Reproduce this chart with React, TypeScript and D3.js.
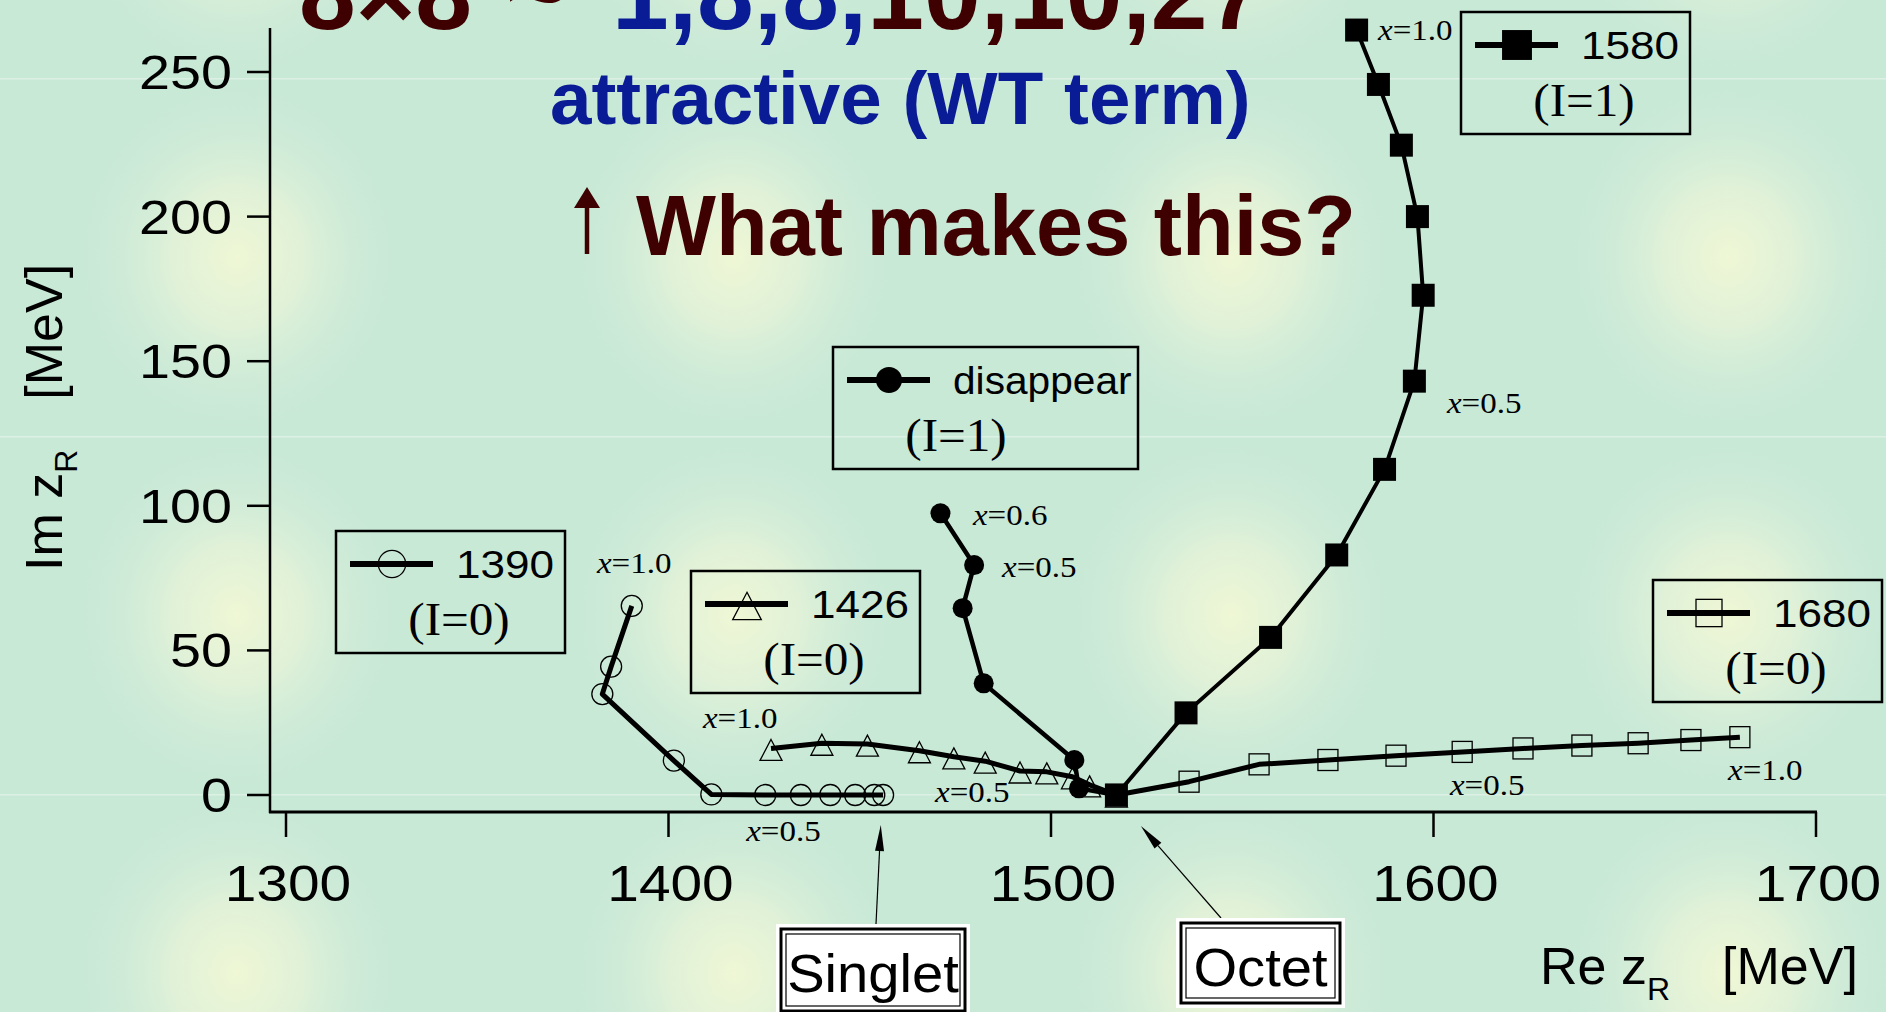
import * as d3 from "d3";

// ---- data ----
const X_TICKS = [1300, 1400, 1500, 1600, 1700];
const Y_TICKS = [0, 50, 100, 150, 200, 250];

// 1390 (I=0), open circles, x=1.0 -> x=0
const RE_1390 = [1390.4, 1385.0, 1382.7, 1401.4, 1411.2, 1425.3, 1434.6, 1442.3, 1448.8, 1453.8, 1456.1];
const IM_1390 = [65.4, 44.4, 34.9, 11.9, 0.2, 0, 0, 0, 0, 0, 0];

// 1426 (I=0), open triangles
const RE_1426 = [1426.8, 1440.1, 1452.0, 1465.6, 1474.6, 1482.8, 1491.9, 1498.9, 1505.6, 1510.1, 1517.1];
const IM_1426 = [16.1, 17.9, 17.6, 15.3, 13.2, 11.7, 8.3, 8.0, 6.3, 3.5, 0];

// 1680 (I=0), open squares
const RE_1680 = [1517.1, 1536.1, 1554.4, 1572.4, 1590.2, 1607.5, 1623.4, 1638.8, 1653.5, 1667.3, 1680.1];
const IM_1680 = [0, 4.6, 10.6, 12.1, 13.6, 14.9, 16.1, 17.1, 17.9, 19.0, 20.0];

// disappear (I=1), filled circles
const RE_DIS = [1471.1, 1479.9, 1476.9, 1482.4, 1506.1, 1507.3, 1517.1];
const IM_DIS = [97.4, 79.5, 64.6, 38.6, 12.1, 2.3, 0];

// 1580 (I=1), filled squares
const RE_1580 = [1517.1, 1535.3, 1557.4, 1574.7, 1587.2, 1595.0, 1597.3, 1595.8, 1591.6, 1585.6, 1579.9];
const IM_1580 = [0, 28.4, 54.5, 83.0, 112.6, 143.1, 172.8, 200.0, 224.7, 245.7, 264.5];

// "x=..." notes, placed in data coordinates
const NOTES = [
  { v: "1.0", re: 1585.5, im: 261 },
  { v: "0.5", re: 1603.5, im: 132 },
  { v: "0.6", re: 1479.6, im: 93.4 },
  { v: "0.5", re: 1487.2, im: 75.4 },
  { v: "1.0", re: 1381.3, im: 76.8 },
  { v: "0.5", re: 1420.3, im: -16 },
  { v: "1.0", re: 1409, im: 23.2 },
  { v: "0.5", re: 1469.7, im: -2.4 },
  { v: "0.5", re: 1604.3, im: 0 },
  { v: "1.0", re: 1677, im: 5.2 },
];

const SANS = "'Liberation Sans', Arial, Helvetica, sans-serif";
const SERIF = "'Liberation Serif', 'Times New Roman', serif";
const RED = "#3e0000";
const BLUE = "#0a1b96";

const W = 1886;
const H = 1012;

const x = d3.scaleLinear().domain([1300, 1700]).range([286, 1816]);
const y = d3.scaleLinear().domain([0, 250]).range([795, 72]);

const AX_Y = y(0) + 17; // x-axis line
const AX_X = x(1300) - 16; // y-axis line

type Kind = "circleOpen" | "circleFilled" | "triOpen" | "squareOpen" | "squareFilled";

function Marker({ kind, cx, cy, s = 1 }: { kind: Kind; cx: number; cy: number; s?: number }) {
  if (kind === "circleOpen")
    return <circle cx={cx} cy={cy} r={10.5 * s} fill="none" stroke="#000" strokeWidth={1.3} />;
  if (kind === "circleFilled") return <circle cx={cx} cy={cy} r={10 * s} fill="#000" />;
  if (kind === "squareOpen")
    return (
      <rect x={cx - 10 * s} y={cy - 10.5 * s} width={20 * s} height={21 * s} fill="none" stroke="#000" strokeWidth={1.3} />
    );
  if (kind === "squareFilled")
    return <rect x={cx - 11.5 * s} y={cy - 11.5 * s} width={23 * s} height={23 * s} fill="#000" />;
  const p = `M${cx},${cy - 9 * s}L${cx + 11 * s},${cy + 12 * s}L${cx - 11 * s},${cy + 12 * s}Z`;
  return <path d={p} fill="none" stroke="#000" strokeWidth={1.3} />;
}

const line = d3
  .line<[number, number]>()
  .x((d) => x(d[0]))
  .y((d) => y(d[1]));

function Series({ re, im, kind, width }: { re: number[]; im: number[]; kind: Kind; width: number }) {
  const pts = re.map((r, i) => [r, im[i]] as [number, number]);
  return (
    <g>
      <path d={line(pts) ?? ""} fill="none" stroke="#000" strokeWidth={width} strokeLinejoin="round" />
      {pts.map((p, i) => (
        <Marker key={i} kind={kind} cx={x(p[0])} cy={y(p[1])} />
      ))}
    </g>
  );
}

// text stretched horizontally (the plot was scaled wider than tall)
function T({
  x: tx,
  y: ty,
  sx = 1,
  size,
  family = SANS,
  anchor = "start",
  weight = "normal",
  fill = "#000",
  children,
}: any) {
  return (
    <text
      transform={`translate(${tx},${ty}) scale(${sx},1)`}
      fontSize={size}
      fontFamily={family}
      textAnchor={anchor}
      fontWeight={weight}
      fill={fill}
    >
      {children}
    </text>
  );
}

function Legend({ left, top, w = 229, kind, name, iso, nameSx = 1.16 }: any) {
  return (
    <g>
      <rect x={left} y={top} width={w} height={122} fill="none" stroke="#000" strokeWidth={2.5} />
      <line x1={left + 14} x2={left + 97} y1={top + 33} y2={top + 33} stroke="#000" strokeWidth={6} />
      <Marker kind={kind} cx={left + 56} cy={top + 33} s={1.3} />
      <T x={left + 120} y={top + 47} size={38} sx={nameSx}>
        {name}
      </T>
      <T x={left + 123} y={top + 104} size={46} sx={1.07} family={SERIF} anchor="middle">
        {iso}
      </T>
    </g>
  );
}

function Arrow({ x1, y1, x2, y2 }: { x1: number; y1: number; x2: number; y2: number }) {
  const a = Math.atan2(y2 - y1, x2 - x1);
  const L = 26;
  const hw = 4.5;
  const bx = x2 - L * Math.cos(a);
  const by = y2 - L * Math.sin(a);
  const nx = -Math.sin(a) * hw;
  const ny = Math.cos(a) * hw;
  return (
    <g>
      <line x1={x1} y1={y1} x2={bx} y2={by} stroke="#000" strokeWidth={1.2} />
      <path d={`M${x2},${y2}L${bx + nx},${by + ny}L${bx - nx},${by - ny}Z`} fill="#000" />
    </g>
  );
}

function BoxLabel({ left, top, w, h, text }: any) {
  return (
    <g>
      <rect x={left} y={top} width={w} height={h} fill="#fff" />
      <rect x={left + 5} y={top + 5} width={w - 10} height={h - 10} fill="none" stroke="#000" strokeWidth={3} />
      <rect x={left + 10} y={top + 10} width={w - 20} height={h - 20} fill="none" stroke="#000" strokeWidth={1.2} />
      <T x={left + w / 2} y={top + 68} size={54} anchor="middle" sx={1.04}>
        {text}
      </T>
    </g>
  );
}

export default function App() {
  return (
    <svg
      width={W}
      height={H}
      viewBox={`0 0 ${W} ${H}`}
      style={{ position: "absolute", left: 0, top: 0, display: "block" }}
    >
      <defs>
        <radialGradient id="spot">
          <stop offset="0" stopColor="#eff7d5" />
          <stop offset="0.4" stopColor="#e0f1d8" />
          <stop offset="1" stopColor="#c9e9d7" stopOpacity="0" />
        </radialGradient>
        <pattern id="bg" patternUnits="userSpaceOnUse" x={-11} y={78} width={497} height={358}>
          <rect width={497} height={358} fill="#c9e9d7" />
          <ellipse cx={248} cy={179} rx={165} ry={178} fill="url(#spot)" />
          <line x1={0} x2={497} y1={0.75} y2={0.75} stroke="#dcf0e4" strokeWidth={1.5} />
        </pattern>
      </defs>
      <rect width={W} height={H} fill="url(#bg)" />

      {/* headline text (top line is cut by the page edge, as in the slide) */}
      <text y={29} fontFamily={SANS} fontWeight="bold" fontSize={102}>
        <tspan x={299} fill={RED}>8×8</tspan>
        <tspan x={506} fill={RED}>~</tspan>
        <tspan x={612} fill={BLUE}>1,8,8,</tspan>
        <tspan fill={RED}>10,10,27</tspan>
      </text>
      <T x={550} y={124} size={75} weight="bold" fill={BLUE} sx={0.995}>
        attractive (WT term)
      </T>
      <line x1={587} x2={587} y1={254} y2={203} stroke={RED} strokeWidth={4.5} />
      <path d="M574,208L600,208L587,187Z" fill={RED} />
      <T x={636} y={255} size={86} weight="bold" fill={RED} sx={0.985}>
        What makes this?
      </T>

      {/* axes */}
      <line x1={AX_X} x2={AX_X} y1={28} y2={AX_Y + 1} stroke="#000" strokeWidth={2.5} />
      <line x1={AX_X - 1} x2={x(1700) + 1} y1={AX_Y} y2={AX_Y} stroke="#000" strokeWidth={3} />
      {Y_TICKS.map((t) => (
        <g key={t}>
          <line x1={AX_X - 23} x2={AX_X} y1={y(t)} y2={y(t)} stroke="#000" strokeWidth={2.5} />
          <T x={232} y={y(t) + 17} size={48} sx={1.16} anchor="end">
            {t}
          </T>
        </g>
      ))}
      {X_TICKS.map((t) => (
        <g key={t}>
          <line x1={x(t)} x2={x(t)} y1={AX_Y} y2={AX_Y + 25} stroke="#000" strokeWidth={2.5} />
          <T x={x(t) + 2} y={901} size={49} sx={1.16} anchor="middle">
            {t}
          </T>
        </g>
      ))}

      <text transform="translate(62,571) rotate(-90)" fontFamily={SANS} fontSize={52}>
        <tspan>Im z</tspan>
        <tspan fontSize={32} dy={15}>R</tspan>
        <tspan dy={-15} dx={50}>[MeV]</tspan>
      </text>
      <text x={1540} y={984} fontFamily={SANS} fontSize={52}>
        <tspan>Re z</tspan>
        <tspan fontSize={32} dy={16}>R</tspan>
        <tspan dy={-16} dx={52}>[MeV]</tspan>
      </text>

      {/* trajectories */}
      <Series re={RE_1390} im={IM_1390} kind="circleOpen" width={5} />
      <Series re={RE_1426} im={IM_1426} kind="triOpen" width={5} />
      <Series re={RE_1680} im={IM_1680} kind="squareOpen" width={5} />
      <Series re={RE_DIS} im={IM_DIS} kind="circleFilled" width={4.5} />
      <Series re={RE_1580} im={IM_1580} kind="squareFilled" width={4} />

      {NOTES.map((n, i) => (
        <T key={i} x={x(n.re)} y={y(n.im)} size={30} sx={1.1} family={SERIF}>
          <tspan fontStyle="italic">x</tspan>=
          {n.v}
        </T>
      ))}

      {/* legends */}
      <Legend left={336} top={531} kind="circleOpen" name="1390" iso="(I=0)" />
      <Legend left={691} top={571} kind="triOpen" name="1426" iso="(I=0)" />
      <Legend left={833} top={347} w={305} kind="circleFilled" name="disappear" iso="(I=1)" nameSx={1.07} />
      <Legend left={1461} top={12} kind="squareFilled" name="1580" iso="(I=1)" />
      <Legend left={1653} top={580} kind="squareOpen" name="1680" iso="(I=0)" />

      {/* Singlet / Octet callouts */}
      <Arrow x1={876} y1={924} x2={x(1455.5)} y2={y(0) + 30} />
      <Arrow x1={1221} y1={918} x2={x(1523.5)} y2={y(0) + 31} />
      <BoxLabel left={776} top={924} w={194} h={92} text="Singlet" />
      <BoxLabel left={1176} top={918} w={169} h={90} text="Octet" />
    </svg>
  );
}
